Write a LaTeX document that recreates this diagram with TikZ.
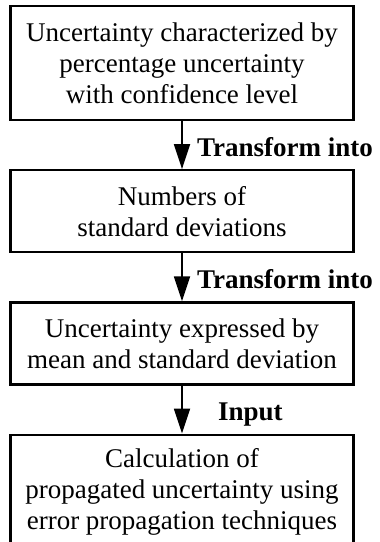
\documentclass[tikz,border=0pt]{standalone}
\usepackage{fontspec}
\setmainfont{Liberation Serif}
\usetikzlibrary{arrows.meta,positioning}
\tikzset{
  box/.style={draw, rectangle, line width=2.2pt, minimum width=343pt, inner sep=0pt,
              align=center, font=\fontsize{27}{31}\selectfont},
  tall/.style={minimum height=114pt},
  short/.style={minimum height=82pt},
  flow/.style={-{Triangle[length=25pt,width=16pt]}, line width=1.8pt},
  lab/.style={font=\fontsize{27}{31}\selectfont\bfseries, inner sep=0pt, anchor=base west}
}

\begin{document}
\begin{tikzpicture}[node distance=48pt]
\clip (0,0) rectangle (380pt,-542pt);
\node[box, tall] (pct) at (182pt,-63pt) {Uncertainty characterized by\\percentage uncertainty\\with confidence level};
\node[box, short, below=of pct] (nsd) {Numbers of\\standard deviations};
\node[box, short, below=of nsd] (msd) {Uncertainty expressed by\\mean and standard deviation};
\node[box, tall, below=of msd] (prop) {Calculation of\\propagated uncertainty using\\error propagation techniques};
\draw[flow] (pct) -- (nsd); \draw[flow] (nsd) -- (msd); \draw[flow] (msd) -- (prop);
\node[lab] (tr1) at ([xshift=15pt,yshift=13pt]nsd.north) {Transform into};
\node[lab] (tr2) at ([xshift=15pt,yshift=13pt]msd.north) {Transform into};
\node[lab] (inp) at ([xshift=36pt,yshift=13pt]prop.north) {Input};
\end{tikzpicture}
\end{document}
